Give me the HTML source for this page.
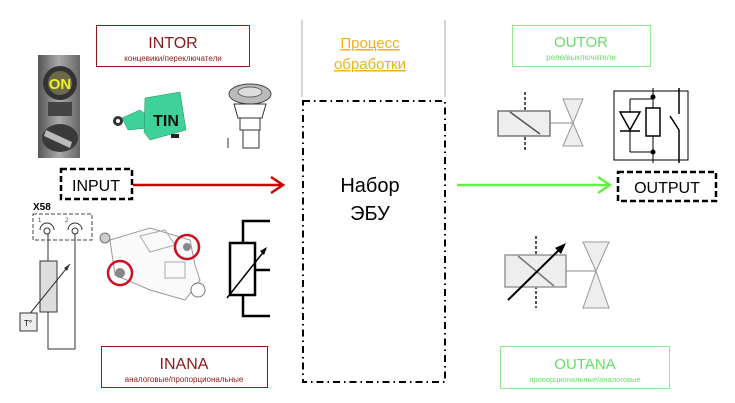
<!DOCTYPE html>
<html><head><meta charset="utf-8"><style>
html,body{margin:0;padding:0;background:#fff;}
svg{display:block;font-family:"Liberation Sans",sans-serif;}
</style></head><body>
<svg width="735" height="403" viewBox="0 0 735 403" xmlns="http://www.w3.org/2000/svg">
<defs><linearGradient id="g1" x1="0" x2="1"><stop offset="0" stop-color="#555"/><stop offset=".5" stop-color="#aaa"/><stop offset="1" stop-color="#666"/></linearGradient></defs>
<!-- INTOR -->
<rect x="96.5" y="25.5" width="153" height="41" fill="#fff" stroke="#8b1a1a" stroke-width="1"/>
<text x="173" y="48" text-anchor="middle" font-size="16" fill="#8b1a1a">INTOR</text>
<text x="173" y="61" text-anchor="middle" font-size="8" fill="#8b1a1a">концевики/переключатели</text>
<!-- INANA -->
<rect x="101.5" y="346.5" width="166" height="41" fill="#fff" stroke="#8b1a1a" stroke-width="1"/>
<text x="184" y="369" text-anchor="middle" font-size="16" fill="#8b1a1a">INANA</text>
<text x="184" y="382" text-anchor="middle" font-size="8" fill="#8b1a1a">аналоговые/пропорциональные</text>
<!-- OUTOR -->
<rect x="512.5" y="25.5" width="138" height="41" fill="#fff" stroke="#8fe88f" stroke-width="1"/>
<text x="581" y="47" text-anchor="middle" font-size="15" fill="#66dd66">OUTOR</text>
<text x="581" y="60" text-anchor="middle" font-size="8" fill="#66dd66">реле/выключатели</text>
<!-- OUTANA -->
<rect x="500.5" y="346.5" width="169" height="42" fill="#fff" stroke="#8fe88f" stroke-width="1"/>
<text x="585" y="369" text-anchor="middle" font-size="15" fill="#66dd66">OUTANA</text>
<text x="585" y="382" text-anchor="middle" font-size="7.5" fill="#66dd66">пропорциональные/аналоговые</text>

<!-- center column -->
<line x1="302" y1="20" x2="302" y2="97" stroke="#d4d4d4" stroke-width="2"/>
<line x1="445" y1="20" x2="445" y2="97" stroke="#d4d4d4" stroke-width="2"/>
<text x="370" y="48" text-anchor="middle" font-size="15" fill="#f0b020" text-decoration="underline">Процесс</text>
<text x="370" y="69" text-anchor="middle" font-size="15" fill="#f0b020" text-decoration="underline">обработки</text>
<rect x="303" y="101" width="142" height="281" fill="none" stroke="#000" stroke-width="2" stroke-dasharray="7,4,1.5,4"/>
<text x="370" y="192" text-anchor="middle" font-size="20">Набор</text>
<text x="370" y="220" text-anchor="middle" font-size="20">ЭБУ</text>

<!-- INPUT -->
<rect x="61" y="169" width="71" height="30" fill="#fff" stroke="#000" stroke-width="2.5" stroke-dasharray="6,3"/>
<text x="96" y="191" text-anchor="middle" font-size="16">INPUT</text>
<line x1="133" y1="185" x2="282" y2="185" stroke="#c00" stroke-width="2.5"/>
<polyline points="271,177 283,185 271,193" fill="none" stroke="#c00" stroke-width="2.5"/>
<!-- OUTPUT -->
<line x1="457" y1="185" x2="610" y2="185" stroke="#66ee44" stroke-width="2.5"/>
<polyline points="598,177 610,185 598,193" fill="none" stroke="#66ee44" stroke-width="2.5"/>
<rect x="618" y="172" width="98" height="29" fill="#fff" stroke="#000" stroke-width="2.5" stroke-dasharray="6,3"/>
<text x="667" y="193" text-anchor="middle" font-size="16">OUTPUT</text>

<!-- ON switch image -->
<rect x="38" y="55" width="42" height="103" fill="url(#g1)"/>
<circle cx="60" cy="83" r="17" fill="#333"/>
<circle cx="60" cy="83" r="12" fill="#6b6b4b"/>
<text x="60" y="89" text-anchor="middle" font-size="15" font-weight="bold" fill="#f2f020">ON</text>
<rect x="48" y="102" width="24" height="14" fill="#444"/>
<ellipse cx="60" cy="138" rx="18" ry="14" fill="#3a3a3a"/>
<path d="M46 130 L72 142 L70 148 L44 136 Z" fill="#bbb"/>

<!-- TIN -->
<circle cx="118" cy="121" r="5" fill="#333"/>
<circle cx="118" cy="121" r="2" fill="#fff"/>
<path d="M122 118 L140 110 L148 116 L148 128 L128 130 Z" fill="#3ed19a" stroke="#1a8a5a" stroke-width=".5"/>
<path d="M145 98 L180 92 L186 130 L150 140 L144 132 Z" fill="#3ed19a" stroke="#1a8a5a" stroke-width=".5"/>
<text x="166" y="126" text-anchor="middle" font-size="16" font-weight="bold" fill="#111">TIN</text>
<rect x="171" y="134" width="8" height="4" fill="#222"/>

<!-- push button -->
<ellipse cx="250" cy="94" rx="21" ry="10" fill="#bbb" stroke="#444"/>
<ellipse cx="250" cy="92" rx="12" ry="5" fill="#ddd" stroke="#666"/>
<path d="M234 104 L266 104 L262 118 L238 118 Z" fill="#fff" stroke="#333"/>
<rect x="240" y="118" width="20" height="12" fill="#fff" stroke="#333"/>
<rect x="243" y="130" width="16" height="18" fill="#fff" stroke="#333"/>
<line x1="228" y1="138" x2="228" y2="148" stroke="#333"/>

<!-- X58 sensor -->
<text x="33" y="210" font-size="10" font-weight="bold">X58</text>
<rect x="33" y="214" width="59" height="26" fill="none" stroke="#444" stroke-dasharray="4,2"/>
<text x="38" y="222" font-size="6" fill="#444">1</text><text x="65" y="222" font-size="6" fill="#444">2</text>
<path d="M40 230 A7 7 0 0 1 54 230" fill="none" stroke="#333"/><circle cx="47" cy="231" r="3" fill="none" stroke="#333"/>
<path d="M68 230 A7 7 0 0 1 82 230" fill="none" stroke="#333"/><circle cx="75" cy="231" r="3" fill="none" stroke="#333"/>
<line x1="48" y1="234" x2="48" y2="261" stroke="#333"/>
<line x1="75" y1="234" x2="75" y2="349" stroke="#333"/>
<polyline points="48,312 48,349 75,349" fill="none" stroke="#333"/>
<rect x="40" y="261" width="17" height="51" fill="#ddd" stroke="#333"/>
<line x1="28" y1="316" x2="70" y2="264" stroke="#333"/>
<polygon points="70,264 64,268 67,271" fill="#333"/>
<rect x="20" y="313" width="17" height="18" fill="#eee" stroke="#333"/>
<text x="24" y="326" font-size="8">T°</text>

<!-- valve block -->
<path d="M110 240 L150 228 L190 240 L195 265 L200 280 L185 300 L150 290 L115 275 Z" fill="#fafafa" stroke="#999"/>
<path d="M140 236 L165 230 L175 245 L150 252 Z" fill="none" stroke="#aaa"/>
<rect x="165" y="262" width="20" height="16" fill="none" stroke="#aaa"/>
<circle cx="198" cy="290" r="7" fill="#fff" stroke="#777"/>
<circle cx="105" cy="238" r="5" fill="#ccc" stroke="#777"/>
<circle cx="120" cy="273" r="12" fill="none" stroke="#cc1122" stroke-width="2.5"/>
<circle cx="120" cy="273" r="5" fill="#888"/>
<circle cx="187" cy="247" r="12" fill="none" stroke="#cc1122" stroke-width="2.5"/>
<circle cx="187" cy="247" r="4" fill="#888"/>

<!-- potentiometer -->
<polyline points="243,243 243,221 270,221" fill="none" stroke="#000" stroke-width="2.5"/>
<polyline points="243,295 243,316 270,316" fill="none" stroke="#000" stroke-width="2.5"/>
<line x1="255" y1="270" x2="270" y2="270" stroke="#000" stroke-width="2.5"/>
<rect x="230" y="243" width="25" height="52" fill="#fff" stroke="#000" stroke-width="2.5"/>
<line x1="227" y1="298" x2="265" y2="250" stroke="#000" stroke-width="1.5"/>
<polygon points="267,247 260,251 264,255" fill="#000"/>

<!-- OUTOR solenoid valve -->
<line x1="525" y1="92" x2="525" y2="150" stroke="#555" stroke-width="2" stroke-dasharray="3,2"/>
<rect x="498" y="111" width="52" height="25" fill="#eee" stroke="#777" stroke-width="1.5"/>
<line x1="510" y1="112" x2="540" y2="134" stroke="#555" stroke-width="1.5"/>
<line x1="550" y1="123" x2="573" y2="123" stroke="#888"/>
<polygon points="563,99 583,99 573,123 583,146 563,146 573,123" fill="#eee" stroke="#999"/>

<!-- relay -->
<rect x="614" y="91" width="74" height="69" fill="#fff" stroke="#000"/>
<polyline points="630,99 653,99 653,152 630,152" fill="none" stroke="#000"/>
<line x1="630" y1="99" x2="630" y2="152" stroke="#000"/>
<polygon points="620,112 640,112 630,130" fill="#fff" stroke="#000" stroke-width="1.5"/>
<line x1="620" y1="131" x2="640" y2="131" stroke="#000" stroke-width="1.5"/>
<line x1="653" y1="88" x2="653" y2="163" stroke="#000"/>
<rect x="646" y="108" width="14" height="28" fill="#fff" stroke="#000" stroke-width="1.5"/>
<circle cx="653" cy="97" r="2.5" fill="#000"/><circle cx="653" cy="152" r="2.5" fill="#000"/>
<line x1="679" y1="88" x2="679" y2="114" stroke="#000" stroke-width="1.5"/>
<line x1="670" y1="116" x2="679" y2="130" stroke="#000" stroke-width="1.5"/>
<line x1="679" y1="130" x2="679" y2="163" stroke="#000" stroke-width="1.5"/>

<!-- OUTANA proportional valve -->
<line x1="536" y1="236" x2="536" y2="308" stroke="#555" stroke-width="2" stroke-dasharray="3,2"/>
<rect x="505" y="255" width="61" height="32" fill="#eee" stroke="#999" stroke-width="1.5"/>
<line x1="518" y1="256" x2="554" y2="286" stroke="#777" stroke-width="1.5"/>
<line x1="566" y1="271" x2="596" y2="271" stroke="#888"/>
<polygon points="583,242 609,242 596,271 609,308 583,308 596,271" fill="#eee" stroke="#999"/>
<line x1="508" y1="300" x2="561" y2="248" stroke="#000" stroke-width="2"/>
<polygon points="566,243 555,248 561,254" fill="#000"/>
</svg>
</body></html>
